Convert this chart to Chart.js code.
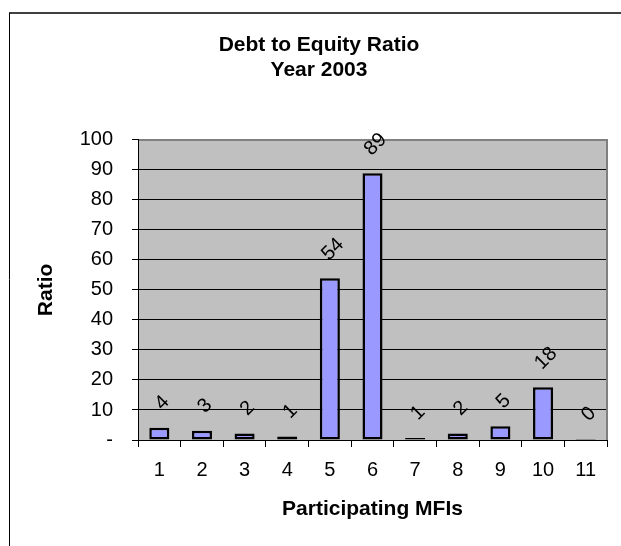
<!DOCTYPE html>
<html lang="en">
<head>
    <meta charset="UTF-8">
    <title>Debt to Equity Ratio</title>
    <style>
        body { margin: 0; background: #fff; }
        canvas { display: block; }
    </style>
</head>
<body>
    <canvas id="myCanvas" width="621" height="546"></canvas>

    <script src="https://cdn.jsdelivr.net/npm/chart.js@4/dist/chart.umd.min.js"></script>
    <script>
        // data
        const mfis = ['1', '2', '3', '4', '5', '6', '7', '8', '9', '10', '11'];
        const ratios = [4.1, 3.1, 2.2, 1.2, 53.9, 88.9, 0.7, 2.2, 4.6, 17.6, 0.3];
        const titleLines = ['Debt to Equity Ratio', 'Year 2003'];
        const xTitle = 'Participating MFIs';
        const yTitle = 'Ratio';

        const FONT = '"Liberation Sans", Arial, Helvetica, sans-serif';
        Chart.defaults.font.family = FONT;
        Chart.defaults.color = '#000';

        // white page, outer frame and grey plot area
        const background = {
            id: 'background',
            beforeDraw(chart) {
                const { ctx, chartArea: a } = chart;
                ctx.save();
                ctx.fillStyle = '#fff';
                ctx.fillRect(0, 0, chart.width, chart.height);
                ctx.strokeStyle = '#404040';
                ctx.lineWidth = 2;
                ctx.beginPath();
                ctx.moveTo(9, 13);
                ctx.lineTo(chart.width, 13);
                ctx.stroke();
                ctx.strokeStyle = '#000';
                ctx.lineWidth = 1;
                ctx.beginPath();
                ctx.moveTo(9.5, 13);
                ctx.lineTo(9.5, chart.height);
                ctx.stroke();
                ctx.fillStyle = '#c0c0c0';
                ctx.fillRect(a.left, a.top, a.right - a.left, a.bottom - a.top);
                ctx.restore();
            }
        };

        // grey edge on top and right of the plot area
        const plotEdge = {
            id: 'plotEdge',
            beforeDatasetsDraw(chart) {
                const { ctx, chartArea: a } = chart;
                ctx.save();
                ctx.strokeStyle = '#808080';
                ctx.lineWidth = 2;
                ctx.beginPath();
                ctx.moveTo(a.left + 1, a.top);
                ctx.lineTo(a.right, a.top);
                ctx.lineTo(a.right, a.bottom);
                ctx.stroke();
                ctx.restore();
            }
        };

        // slanted value labels above each bar
        const barLabels = {
            id: 'barLabels',
            afterDatasetsDraw(chart) {
                const ctx = chart.ctx;
                const meta = chart.getDatasetMeta(0);
                ctx.save();
                ctx.font = '20px ' + FONT;
                ctx.fillStyle = '#000';
                ctx.textAlign = 'center';
                ctx.textBaseline = 'middle';
                meta.data.forEach((bar, i) => {
                    const text = String(Math.round(ratios[i]));
                    const w = ctx.measureText(text).width;
                    const half = (w + 14) / (2 * Math.SQRT2);
                    ctx.save();
                    ctx.translate(bar.x + 3, bar.y - 16 - half);
                    ctx.rotate(-Math.PI / 4);
                    ctx.fillText(text, 0, 0);
                    ctx.restore();
                });
                ctx.restore();
            }
        };

        const ctx = document.getElementById('myCanvas').getContext('2d');
        const chart = new Chart(ctx, {
            type: 'bar',
            data: {
                labels: mfis,
                datasets: [{
                    data: ratios,
                    backgroundColor: '#9999ff',
                    borderColor: '#000',
                    borderWidth: 2.5,
                    borderSkipped: false,
                    barPercentage: 0.47,
                    categoryPercentage: 1
                }]
            },
            plugins: [background, plotEdge, barLabels],
            options: {
                responsive: false,
                animation: false,
                layout: { padding: { left: 31, right: 14, top: 0, bottom: 0 } },
                plugins: {
                    legend: { display: false },
                    tooltip: { enabled: false },
                    title: {
                        display: true,
                        text: titleLines,
                        color: '#000',
                        font: { size: 21, weight: 'bold', lineHeight: 1.2 },
                        padding: { top: 32.5, bottom: 57 }
                    }
                },
                scales: {
                    x: {
                        offset: true,
                        grid: {
                            offset: true,
                            drawOnChartArea: false,
                            color: '#000',
                            tickLength: 7
                        },
                        border: { color: '#000', width: 1 },
                        ticks: { font: { size: 20 }, padding: 11, maxRotation: 0 },
                        title: {
                            display: true,
                            text: xTitle,
                            font: { size: 21, weight: 'bold' },
                            padding: 24
                        },
                        afterFit(scale) { scale.height = 106; }
                    },
                    y: {
                        min: 0,
                        max: 100,
                        ticks: {
                            stepSize: 10,
                            font: { size: 20 },
                            padding: 19,
                            callback: v => v === 0 ? '-' : v
                        },
                        grid: { color: '#000', tickLength: 6 },
                        border: { color: '#000', width: 1 },
                        title: {
                            display: true,
                            text: yTitle,
                            font: { size: 21, weight: 'bold' },
                            padding: 3
                        },
                        afterFit(scale) { scale.width = 107; }
                    }
                }
            }
        });
    </script>
</body>
</html>
